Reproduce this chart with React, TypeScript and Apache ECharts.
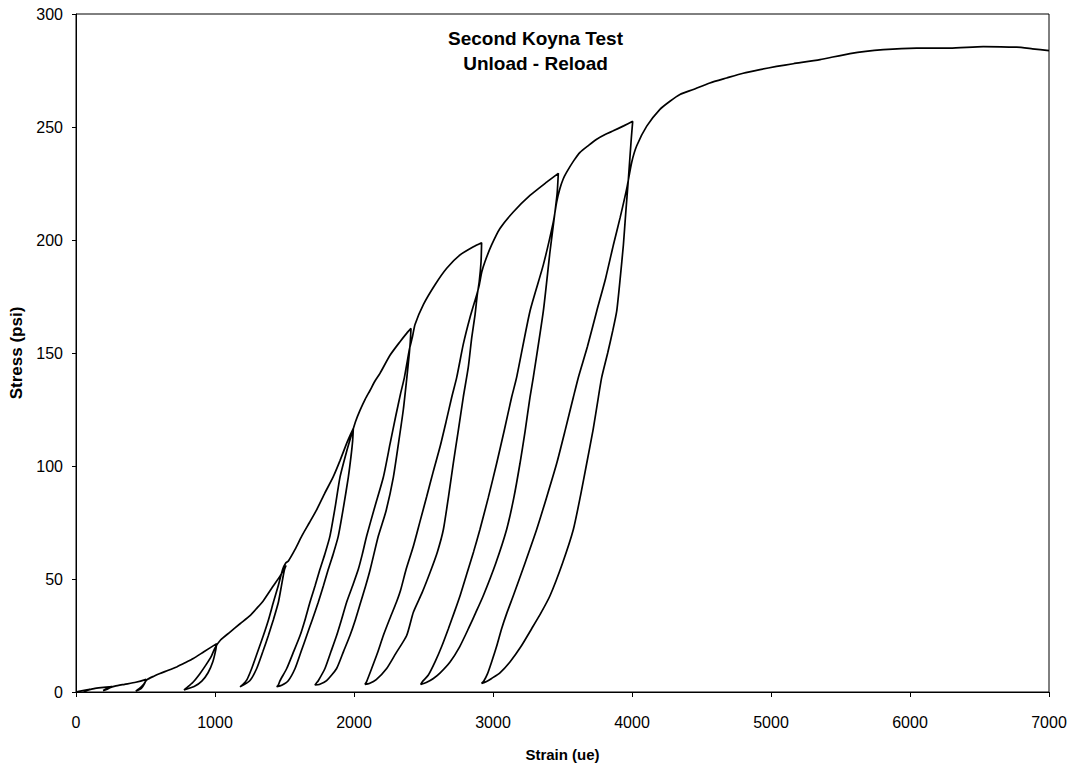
import React, { useEffect, useRef } from "react";
import * as echarts from "echarts";

const xTicks = [0, 1000, 2000, 3000, 4000, 5000, 6000, 7000];
const yTicks = [0, 50, 100, 150, 200, 250, 300];

// [strain (ue), stress (psi)] read from the test record, in test order
const load0 = [[0,0],[40,0.5],[100,1.2],[70,0.4],[55,0.2],[85,0.8],[130,1.5],[180,1.9],[260,2.4],[225,1.2],[195,0.6],[235,1.7],[280,2.6],[350,3.4],[430,4.3],[505,5.6],[492,3.6],[470,1.6],[430,0.4],[455,1.5],[485,3.3],[510,5.4],[560,7.0],[604,8.2],[664,9.6],[724,11.1],[784,12.9],[844,14.8],[920,17.8],[1012,21.4]];
const unload1 = [[1005,18.5],[985,13.5],[950,8.5],[905,4.8],[850,2.4],[777,0.9]];
const reload1 = [[795,1.8],[840,4.2],[890,8],[935,12],[975,16],[1000,19.5],[1040,23],[1108,26.5],[1180,30.2],[1252,33.8],[1300,37],[1348,40.4],[1420,47],[1470,51.5],[1511,56]];
const unload2 = [[1499,54],[1478,47],[1456,39.7],[1420,32],[1384,25],[1345,18],[1300,10.4],[1250,5],[1180,2.3]];
const reload2 = [[1200,3.3],[1230,5.5],[1264,10.4],[1305,17.5],[1348,25],[1385,32],[1420,39.7],[1455,47],[1487,54.3],[1508,57],[1528,58],[1576,63.1],[1624,69],[1680,75],[1732,80.7],[1790,88],[1851,95.3],[1900,102.5],[1947,110],[1975,114],[1995,116.5]];
const unload3 = [[1990,111],[1978,104],[1959,95],[1925,82],[1887,69],[1850,61],[1815,54.3],[1780,47],[1743,39.7],[1700,32],[1660,25],[1620,18],[1576,10.4],[1527,5],[1480,3],[1444,2.3]];
const reload3 = [[1455,3],[1468,5],[1516,10.4],[1560,17],[1612,25],[1648,32],[1683,39.7],[1720,47],[1755,54.3],[1790,61],[1827,69],[1865,82],[1899,95],[1945,106],[1983,114],[2010,119.5],[2043,124.6],[2080,129.5],[2115,133.4],[2150,137.5],[2187,141],[2259,149],[2331,155],[2380,158.8],[2410,160.9]];
const unload4 = [[2405,155],[2395,148],[2380,139],[2355,125],[2320,110],[2283,95],[2230,80],[2175,69],[2117,54.3],[2084,47],[2048,39.7],[2010,32],[1971,25],[1925,18],[1875,10.4],[1803,5],[1750,3.3],[1719,3.1]];
const reload4 = [[1730,4],[1743,5],[1791,10.4],[1835,18],[1875,25],[1910,32],[1947,39.7],[1990,47],[2031,54.3],[2060,61],[2091,69],[2150,82],[2211,95],[2260,110],[2300,122],[2335,132],[2362,139],[2385,147],[2400,152],[2420,157],[2439,162.6],[2499,171.4],[2583,180.2],[2667,187.5],[2763,193.4],[2859,197],[2918,198.8]];
const unload5 = [[2914,190.4],[2901,181.6],[2887,175.8],[2871,167],[2847,156.8],[2822,143.6],[2786,130.4],[2750,115.5],[2714,101.1],[2680,86.5],[2643,71.9],[2600,62],[2547,52.9],[2490,44],[2427,35.3],[2379,25],[2300,17],[2235,10.4],[2160,5.5],[2110,3.8],[2079,3.4]];
const reload5 = [[2090,4.5],[2127,10.4],[2170,17.5],[2211,25],[2258,32.5],[2305,39.7],[2335,45],[2375,54.3],[2427,64.5],[2475,75.5],[2523,86.5],[2570,97.5],[2619,108.5],[2662,119.5],[2703,130.4],[2739,139.2],[2786,153.8],[2834,165.6],[2883,175.8],[2899,179.5],[2920,186],[2942,190.4],[2990,197.8],[3050,205.1],[3146,212.4],[3266,219.7],[3386,225.6],[3470,229.5]];
const unload6 = [[3462,221],[3446,212.4],[3410,194.8],[3362,168.5],[3290,139.2],[3266,130.4],[3230,115],[3194,101.1],[3150,86],[3098,71.9],[3020,57],[2930,42.6],[2875,35],[2823,28],[2760,20],[2691,13.3],[2620,8.5],[2571,6],[2520,4.2],[2480,3.3]];
const reload6 = [[2495,4.8],[2535,7.5],[2583,13.3],[2630,20],[2679,28],[2720,35],[2763,42.6],[2810,52],[2860,62],[2906,71.9],[2966,86],[3026,101.1],[3080,115.5],[3134,130.4],[3170,139.2],[3266,168.5],[3362,189],[3434,208],[3458,216.8],[3480,222.5],[3505,227],[3530,230],[3580,235],[3626,238.8],[3690,242],[3746,244.6],[3810,246.8],[3865,248.3],[3940,250.5],[4005,252.5]];
const unload7 = [[3995,245],[3974,227],[3955,212],[3938,197.8],[3915,183],[3890,168.5],[3862,160],[3825,150],[3782,139.2],[3758,130.4],[3720,116],[3674,101.1],[3630,87],[3578,71.9],[3500,57],[3410,42.6],[3345,35],[3278,28],[3200,20],[3122,13.3],[3050,8.5],[2990,6],[2950,4.5],[2918,3.8]];
const reload7 = [[2935,5],[2960,8],[2990,13.3],[3025,20],[3062,28],[3100,35],[3146,42.6],[3230,57],[3314,71.9],[3385,86],[3458,101.1],[3520,116],[3578,130.4],[3614,139.2],[3680,153],[3746,168.5],[3810,183],[3866,197.8],[3915,210],[3962,222.7],[3998,234.4],[4034,241.7],[4106,250.4],[4201,257.8],[4273,261.4],[4345,264.4],[4441,266.6],[4560,269.5],[4681,271.7],[4800,273.8],[4921,275.4],[5040,276.8],[5160,278],[5353,279.8],[5568,282.5],[5808,284.2],[6048,284.9],[6288,284.9],[6527,285.6],[6767,285.3],[6880,284.6],[7000,283.8]];

const segments = [load0, unload1, reload1, unload2, reload2, unload3, reload3, unload4, reload4, unload5, reload5, unload6, reload6, unload7, reload7];

const FONT = "'Liberation Sans', Arial, sans-serif";

export default function App() {
  const ref = useRef<HTMLDivElement>(null);
  useEffect(() => {
    document.body.style.margin = "0";
    const chart = echarts.init(ref.current!, null, { renderer: "svg" });
    const data = ([] as number[][]).concat(...segments);
    chart.setOption({
      animation: false,
      backgroundColor: "#ffffff",
      title: {
        text: "Second Koyna Test\nUnload - Reload",
        left: "center",
        top: 21,
        textStyle: { fontFamily: FONT, fontSize: 19, fontWeight: "bold", color: "#000", lineHeight: 25 },
      },
      grid: { left: 76, right: 22, top: 14, bottom: 70, show: true, borderColor: "#000", borderWidth: 1, backgroundColor: "transparent" },
      xAxis: {
        type: "value",
        min: xTicks[0],
        max: xTicks[xTicks.length - 1],
        interval: 1000,
        name: "Strain (ue)",
        nameLocation: "middle",
        nameGap: 55,
        nameTextStyle: { fontFamily: FONT, fontSize: 15, fontWeight: "bold", color: "#000" },
        axisLine: { show: true, lineStyle: { color: "#000", width: 1 } },
        axisTick: { show: true, length: 5, inside: false, lineStyle: { color: "#000" } },
        axisLabel: { margin: 22, fontFamily: FONT, fontSize: 16, color: "#000", formatter: (v: number) => String(v) },
        splitLine: { show: false },
      },
      yAxis: {
        type: "value",
        min: yTicks[0],
        max: yTicks[yTicks.length - 1],
        interval: 50,
        name: "Stress (psi)",
        nameLocation: "middle",
        nameGap: 49,
        nameRotate: 90,
        nameTextStyle: { fontFamily: FONT, fontSize: 17, fontWeight: "bold", color: "#000" },
        axisLine: { show: true, lineStyle: { color: "#000", width: 1 } },
        axisTick: { show: true, length: 4, inside: false, lineStyle: { color: "#000" } },
        axisLabel: { margin: 13, fontFamily: FONT, fontSize: 16, color: "#000", formatter: (v: number) => String(v) },
        splitLine: { show: false },
      },
      series: [
        {
          type: "line",
          data,
          showSymbol: false,
          smooth: 0.2,
          lineStyle: { color: "#000", width: 1.7 },
          clip: true,
        },
      ],
    });
    return () => chart.dispose();
  }, []);
  return <div ref={ref} style={{ width: 1071, height: 767 }} />;
}
